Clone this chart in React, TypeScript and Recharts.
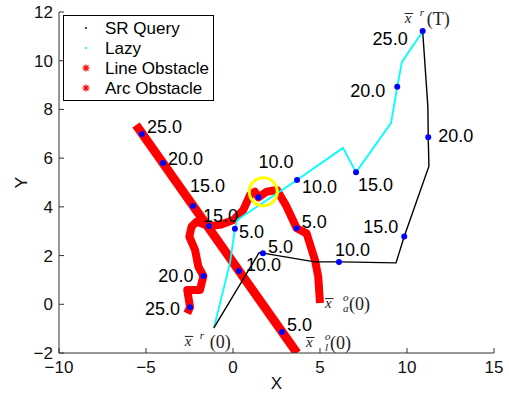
import React from "react";
import {
  ComposedChart,
  Line,
  Scatter,
  XAxis,
  YAxis,
  ReferenceDot,
  Legend,
} from "recharts";

// robot paths
const srQueryX = [-1.1, 1.5, 1.72, 4.7, 6.09, 9.37, 9.84, 11.26, 11.22, 11.2, 10.9];
const srQueryY = [-0.97, 2.12, 2.1, 1.74, 1.74, 1.7, 2.78, 5.67, 6.86, 8.1, 11.22];

const lazyX = [-1.1, -0.17, 0.11, 0.23, 3.68, 6.32, 7.07, 9.08, 9.44, 9.71, 10.9];
const lazyY = [-0.97, 1.7, 3.1, 3.46, 5.1, 6.42, 5.42, 7.44, 8.93, 9.95, 11.2];

// obstacles
const lineObsX = [-5.57, 3.68];
const lineObsY = [7.36, -2.0];

const arcObsX = [5.0, 4.9, 4.71, 4.23, 3.66, 3.08, 2.53, 1.93, 1.46, 1.26, 0.98, 0.59, 0.02, -0.75, -1.38, -2.09, -2.38, -2.51, -2.18, -1.99, -1.7, -1.9, -2.63, -2.47, -2.63];
const arcObsY = [0.05, 1.13, 1.82, 2.91, 3.12, 4.01, 4.69, 4.62, 4.39, 4.62, 4.49, 3.87, 3.46, 3.26, 3.21, 3.39, 3.19, 2.78, 2.23, 1.54, 1.16, 0.59, 0.59, -0.12, -0.37];

// positions at t = 5, 10, 15, 20, 25
const times = ["5.0", "10.0", "15.0", "20.0", "25.0"];
const srDotX = [1.72, 6.09, 9.84, 11.22, 10.9];
const srDotY = [2.1, 1.74, 2.78, 6.86, 11.22];
const lazyDotX = [0.11, 3.68, 7.07, 9.44];
const lazyDotY = [3.1, 5.1, 5.42, 8.93];
const lineDotX = [2.82, 0.34, -2.3, -4.02, -5.23];
const lineDotY = [-1.14, 1.37, 4.04, 5.8, 6.99];
const arcDotX = [3.66, 1.46, -1.38, -1.7, -2.47];
const arcDotY = [3.12, 4.39, 3.21, 1.16, -0.12];

// highlighted collision spot
const hitX = 1.74;
const hitY = 4.62;

const xTicks = [-10, -5, 0, 5, 10, 15];
const yTicks = [-2, 0, 2, 4, 6, 8, 10, 12];

const legendNames = ["SR Query", "Lazy", "Line Obstacle", "Arc Obstacle"];

const FONT = "'Liberation Sans', Arial, Helvetica, sans-serif";
const SERIF = "'Liberation Serif', 'Times New Roman', serif";

// label placement for the time stamps: [anchor, dx, dy] in px
const srLabelPos: [string, number, number][] = [["start", 5, 0], ["start", -4, -6], ["end", -6, -4], ["start", 10, 5], ["end", -15, 14]];
const lazyLabelPos: [string, number, number][] = [["start", 4, 9], ["start", 5, 13], ["start", 2, 19], ["end", -12, 10]];
const lineLabelPos: [string, number, number][] = [["start", 5, -1], ["start", 7, 0], ["start", -3, -14], ["start", 5, 2], ["start", 5, -1]];
const arcLabelPos: [string, number, number][] = [["start", 5, 0], ["start", 0, -29], ["start", -6, -4], ["end", -10, 6], ["end", -10, 8]];

const toPoints = (xs: number[], ys: number[]) => xs.map((x, i) => ({ x, y: ys[i] }));

const toDots = (xs: number[], ys: number[], pos: [string, number, number][]) =>
  xs.map((x, i) => ({
    x,
    y: ys[i],
    label: times[i],
    anchor: pos[i][0],
    dx: pos[i][1],
    dy: pos[i][2],
  }));

const fmt = (v: number) => (v < 0 ? `\u2212${Math.abs(v)}` : `${v}`);

const XTick = (props: any) => {
  const { x, y, payload } = props;
  return (
    <g>
      <line x1={x} y1={y} x2={x} y2={y - 5} stroke="#333" />
      <text x={x} y={y + 20} textAnchor="middle" fontSize={17} fontFamily={FONT} fill="#111">
        {fmt(payload.value)}
      </text>
    </g>
  );
};

const YTick = (props: any) => {
  const { x, y, payload } = props;
  return (
    <g>
      <line x1={x} y1={y} x2={x + 5} y2={y} stroke="#333" />
      <text x={x - 6} y={y + 6} textAnchor="end" fontSize={17} fontFamily={FONT} fill="#111">
        {fmt(payload.value)}
      </text>
    </g>
  );
};

const TimeDot = (props: any) => {
  const { cx, cy, payload } = props;
  return (
    <g>
      <circle cx={cx} cy={cy} r={3} fill="#0000ff" />
      <text
        x={cx + payload.dx}
        y={cy + payload.dy}
        textAnchor={payload.anchor}
        fontSize={18}
        fontFamily={FONT}
        fill="#000"
      >
        {payload.label}
      </text>
    </g>
  );
};

// latex-like \bar{x}^{sup}_{sub}(arg)
const Annot = (props: any) => {
  const { cx, cy, dx, dy, sup, sub, arg, supX, parenX } = props;
  const x0 = cx + dx;
  const b = cy + dy;
  return (
    <g fill="#222" fontFamily={SERIF}>
      <line x1={x0} y1={b - 11.5} x2={x0 + 8.5} y2={b - 11.5} stroke="#222" strokeWidth={1} />
      <text x={x0} y={b - 2} fontSize={15} fontStyle="italic">x</text>
      <text x={x0 + supX} y={b - 9} fontSize={11} fontStyle="italic">{sup}</text>
      {sub && (
        <text x={x0 + supX} y={b + 2} fontSize={11} fontStyle="italic">{sub}</text>
      )}
      <text x={x0 + parenX} y={b} fontSize={18}>({arg})</text>
    </g>
  );
};

const Asterisk = ({ x, y, color }: { x: number; y: number; color: string }) => (
  <g stroke={color} strokeWidth={1.2}>
    <line x1={x - 3.5} y1={y} x2={x + 3.5} y2={y} />
    <line x1={x} y1={y - 3.5} x2={x} y2={y + 3.5} />
    <line x1={x - 2.5} y1={y - 2.5} x2={x + 2.5} y2={y + 2.5} />
    <line x1={x - 2.5} y1={y + 2.5} x2={x + 2.5} y2={y - 2.5} />
  </g>
);

const renderLegend = () => (
  <svg width={151} height={86} style={{ display: "block" }}>
    <rect x={0.5} y={0.5} width={150} height={85} fill="#fff" stroke="#000" />
    {legendNames.map((name, i) => {
      const cy = 13 + i * 20;
      return (
        <g key={name}>
          {i === 0 && <circle cx={23} cy={cy} r={1} fill="#000" />}
          {i === 1 && <circle cx={23} cy={cy} r={1} fill="#00ffff" />}
          {i >= 2 && <Asterisk x={23} y={cy} color="#ff0000" />}
          <text x={42} y={cy + 6} fontSize={17} fontFamily={FONT} fill="#000">
            {name}
          </text>
        </g>
      );
    })}
  </svg>
);

export default function App() {
  return (
    <div style={{ position: "absolute", left: 0, top: 0, background: "#fff" }}>
      <ComposedChart width={509} height={393} margin={{ top: 12, right: 15, bottom: 0, left: 0 }}>
        <XAxis
          type="number"
          dataKey="x"
          domain={[-10, 15]}
          ticks={xTicks}
          interval={0}
          allowDataOverflow
          tickLine={false}
          tickSize={0}
          tickMargin={0}
          tick={<XTick />}
          stroke="#333"
          height={40}
          label={{
            content: (p: any) => (
              <text
                x={p.viewBox.x + p.viewBox.width / 2}
                y={389}
                textAnchor="middle"
                fontSize={17}
                fontFamily={FONT}
                fill="#111"
              >
                X
              </text>
            ),
          }}
        />
        <YAxis
          type="number"
          dataKey="y"
          domain={[-2, 12]}
          ticks={yTicks}
          interval={0}
          allowDataOverflow
          tickLine={false}
          tickSize={0}
          tickMargin={0}
          tick={<YTick />}
          stroke="#333"
          width={59}
          label={{
            content: (p: any) => {
              const cy = p.viewBox.y + p.viewBox.height / 2;
              return (
                <text
                  x={27}
                  y={cy}
                  transform={`rotate(-90 27 ${cy})`}
                  textAnchor="middle"
                  fontSize={17}
                  fontFamily={FONT}
                  fill="#111"
                >
                  Y
                </text>
              );
            },
          }}
        />
        <Legend
          layout="vertical"
          align="center"
          verticalAlign="middle"
          width={151}
          height={86}
          wrapperStyle={{ left: 63, top: 15 }}
          content={renderLegend}
        />
        <Line
          data={toPoints(lineObsX, lineObsY)}
          dataKey="y"
          stroke="#ff0000"
          strokeWidth={9}
          dot={false}
          isAnimationActive={false}
        />
        <Line
          data={toPoints(arcObsX, arcObsY)}
          dataKey="y"
          stroke="#ff0000"
          strokeWidth={8}
          strokeLinejoin="round"
          dot={false}
          isAnimationActive={false}
        />
        <Line
          data={toPoints(lazyX, lazyY)}
          dataKey="y"
          stroke="#00ffff"
          strokeWidth={1.8}
          dot={false}
          isAnimationActive={false}
        />
        <Line
          data={toPoints(srQueryX, srQueryY)}
          dataKey="y"
          stroke="#000"
          strokeWidth={1.4}
          dot={false}
          isAnimationActive={false}
        />
        <ReferenceDot x={hitX} y={hitY} r={14} fill="none" stroke="#ffff00" strokeWidth={3} ifOverflow="visible" />
        <Scatter data={toDots(lineDotX, lineDotY, lineLabelPos)} shape={<TimeDot />} isAnimationActive={false} />
        <Scatter data={toDots(arcDotX, arcDotY, arcLabelPos)} shape={<TimeDot />} isAnimationActive={false} />
        <Scatter data={toDots(lazyDotX, lazyDotY, lazyLabelPos)} shape={<TimeDot />} isAnimationActive={false} />
        <Scatter data={toDots(srDotX, srDotY, srLabelPos)} shape={<TimeDot />} isAnimationActive={false} />
        <ReferenceDot
          x={srDotX[4]}
          y={srDotY[4]}
          ifOverflow="visible"
          shape={(p: any) => <Annot {...p} dx={-18} dy={-6} sup="r" arg="T" supX={15} parenX={22} />}
        />
        <ReferenceDot
          x={srQueryX[0]}
          y={srQueryY[0]}
          ifOverflow="visible"
          shape={(p: any) => <Annot {...p} dx={-29} dy={20} sup="r" arg="0" supX={15} parenX={25} />}
        />
        <ReferenceDot
          x={lineObsX[1]}
          y={lineObsY[1]}
          ifOverflow="visible"
          shape={(p: any) => <Annot {...p} dx={9} dy={-4} sup="o" sub="l" arg="0" supX={19} parenX={24} />}
        />
        <ReferenceDot
          x={arcObsX[0]}
          y={arcObsY[0]}
          ifOverflow="visible"
          shape={(p: any) => <Annot {...p} dx={5} dy={7} sup="o" sub="a" arg="0" supX={18} parenX={24} />}
        />
      </ComposedChart>
    </div>
  );
}
